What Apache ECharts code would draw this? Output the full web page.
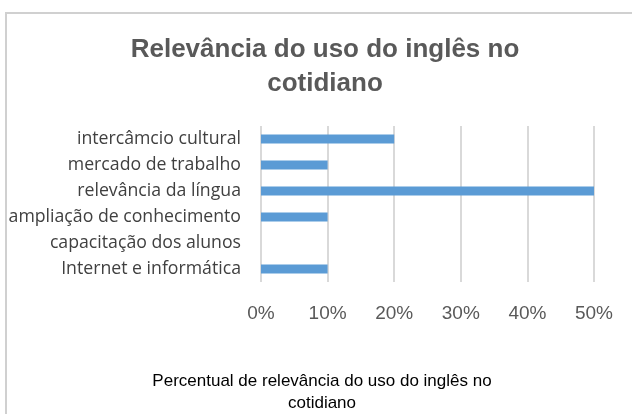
<!DOCTYPE html>
<html>
<head>
<meta charset="utf-8">
<script src="https://cdn.jsdelivr.net/npm/echarts@6/dist/echarts.min.js"></script>
<style>html,body{margin:0;padding:0;background:#fff}#c{width:632px;height:414px}</style>
</head>
<body>
<div id="c"></div>
<script>
const categories = ["intercâmcio cultural","mercado de trabalho","relevância da língua","ampliação de conhecimento","capacitação dos alunos","Internet e informática"];
const values = [0.20, 0.10, 0.50, 0.10, 0, 0.10];
const titleText = "Relevância do uso do inglês no\ncotidiano";
const axisTitle = "Percentual de relevância do uso do inglês no\ncotidiano";

const chart = echarts.init(document.getElementById('c'));
chart.setOption({
  animation: false,
  backgroundColor: '#fff',
  title: [{
    text: titleText, left: 320, top: 28, textAlign: 'center',
    textStyle: {fontFamily: 'Liberation Sans', fontWeight: 'bold', fontSize: 26, color: '#595959', lineHeight: 34}
  },{
    text: axisTitle, left: 317, top: 365, textAlign: 'center',
    textStyle: {fontFamily: 'Liberation Sans', fontWeight: 'normal', fontSize: 17, color: '#000', lineHeight: 22}
  }],
  graphic: [{
    type: 'polyline', shape: {points: [[6, 420], [6, 13], [640, 13]]},
    style: {stroke: '#d0d0d0', lineWidth: 2, fill: null}, silent: true
  }],
  grid: {left: 261, right: 38, top: 126, bottom: 132, containLabel: false},
  xAxis: {
    type: 'value', min: 0, max: 0.5, interval: 0.1,
    axisLine: {show: false}, axisTick: {show: false},
    splitLine: {show: true, lineStyle: {color: '#d9d9d9', width: 2}},
    axisLabel: {formatter: v => Math.round(v * 100) + '%', color: '#595959', fontSize: 19, fontFamily: 'Liberation Sans', margin: 22}
  },
  yAxis: {
    type: 'category', data: categories, inverse: true,
    axisLine: {show: false}, axisTick: {show: false},
    axisLabel: {color: '#404040', fontSize: 17.7, fontFamily: 'Open Sans', margin: 20}
  },
  series: [{
    type: 'bar', data: values, barWidth: 9,
    itemStyle: {color: '#5b9bd5'}
  }]
});
</script>
</body>
</html>
